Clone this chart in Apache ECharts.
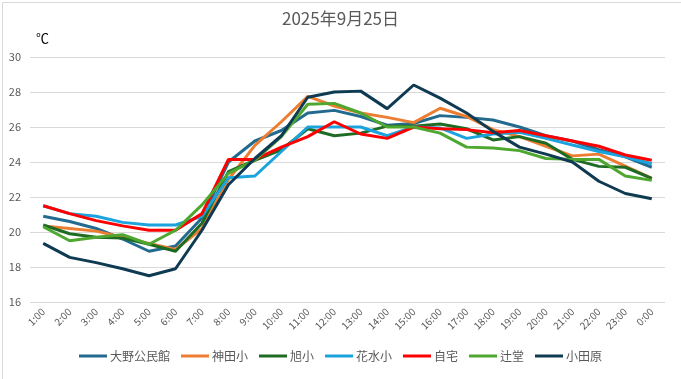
<!DOCTYPE html>
<html><head><meta charset="utf-8">
<script src="https://cdn.jsdelivr.net/npm/echarts@6/dist/echarts.min.js"></script>
<style>html,body{margin:0;padding:0;background:#fff}#c{width:681px;height:379px}</style>
</head><body><div id="c"></div>
<script>
const categories = ['1:00','2:00','3:00','4:00','5:00','6:00','7:00','8:00','9:00','10:00','11:00','12:00','13:00','14:00','15:00','16:00','17:00','18:00','19:00','20:00','21:00','22:00','23:00','0:00'];
const ohno   = [20.9,20.6,20.2,19.6,18.9,19.2,20.8,24.0,25.2,25.8,26.8,26.95,26.6,26.1,26.2,26.65,26.55,26.4,26.0,25.5,25.2,24.7,24.3,23.7];
const kanda  = [20.35,20.2,20.05,19.7,19.35,19.0,20.2,23.0,24.95,26.3,27.75,27.2,26.8,26.55,26.25,27.07,26.6,25.85,25.45,24.9,24.35,24.45,23.77,23.07];
const asahi  = [20.4,19.9,19.7,19.65,19.3,18.9,20.5,23.45,24.1,24.7,25.9,25.5,25.65,26.05,26.05,26.17,25.9,25.26,25.45,25.07,24.15,23.75,23.7,23.07];
const hanamizu = [21.5,21.05,20.9,20.55,20.4,20.4,20.9,23.1,23.2,24.6,26.0,26.0,26.0,25.5,26.0,25.95,25.35,25.6,25.7,25.35,24.97,24.6,24.3,23.9];
const jitaku = [21.5,21.05,20.65,20.35,20.1,20.1,21.05,24.15,24.15,24.85,25.45,26.3,25.6,25.35,26.0,25.9,25.85,25.67,25.8,25.5,25.2,24.9,24.4,24.1];
const tsujido = [20.3,19.5,19.7,19.85,19.3,20.1,21.55,23.35,24.1,25.45,27.3,27.35,26.8,26.0,26.0,25.65,24.85,24.8,24.65,24.2,24.15,24.15,23.2,22.95];
const odawara = [19.35,18.55,18.25,17.9,17.5,17.9,20.1,22.7,24.2,25.5,27.7,28.0,28.05,27.05,28.4,27.65,26.8,25.75,24.85,24.45,24.0,22.9,22.2,21.9];
const seriesNames = ['大野公民館','神田小','旭小','花水小','自宅','辻堂','小田原'];
const seriesData = [ohno,kanda,asahi,hanamizu,jitaku,tsujido,odawara];
const colors = ['#236B8E','#ED7D31','#1E6B24','#1AA3DD','#FF0000','#4EA72E','#0E3A52'];
const yTicks = {min:16,max:30,interval:2};

const font = '"Noto Sans CJK JP","Noto Sans",sans-serif';
const chart = echarts.init(document.getElementById('c'));
chart.setOption({
  animation:false,
  color:colors,
  textStyle:{fontFamily:font},
  title:{text:'2025年9月25日',left:'center',top:5,textStyle:{fontSize:17,fontWeight:'normal',color:'#595959',fontFamily:font}},
  graphic:[{type:'rect',left:0,top:0,shape:{width:680,height:378},style:{fill:'none',stroke:'#d9d9d9',lineWidth:1},silent:true}],
  legend:{bottom:12,left:'center',itemWidth:28,itemHeight:3,itemGap:11,icon:'rect',
    textStyle:{fontSize:12,color:'#595959',fontFamily:font,padding:[0,0,0,-2]},data:seriesNames},
  grid:{left:30,right:16,top:57,bottom:77,containLabel:false},
  xAxis:{type:'category',data:categories,boundaryGap:true,
    axisLine:{show:false},axisTick:{show:false},
    axisLabel:{rotate:45,interval:0,fontSize:10,color:'#595959',margin:8,fontFamily:font}},
  yAxis:{type:'value',min:yTicks.min,max:yTicks.max,interval:yTicks.interval,
    name:'℃',nameLocation:'end',nameGap:12,
    nameTextStyle:{align:'left',padding:[0,0,0,6],fontSize:13,color:'#000',fontFamily:font},
    axisLine:{show:false},axisTick:{show:false},
    axisLabel:{fontSize:11,color:'#595959',margin:9,fontFamily:font},
    splitLine:{lineStyle:{color:'#d9d9d9',width:1}}},
  series:seriesNames.map((n,i)=>({name:n,type:'line',data:seriesData[i],showSymbol:false,symbol:'none',
    lineStyle:{width:3,color:colors[i]},itemStyle:{color:colors[i]}}))
});
</script></body></html>
